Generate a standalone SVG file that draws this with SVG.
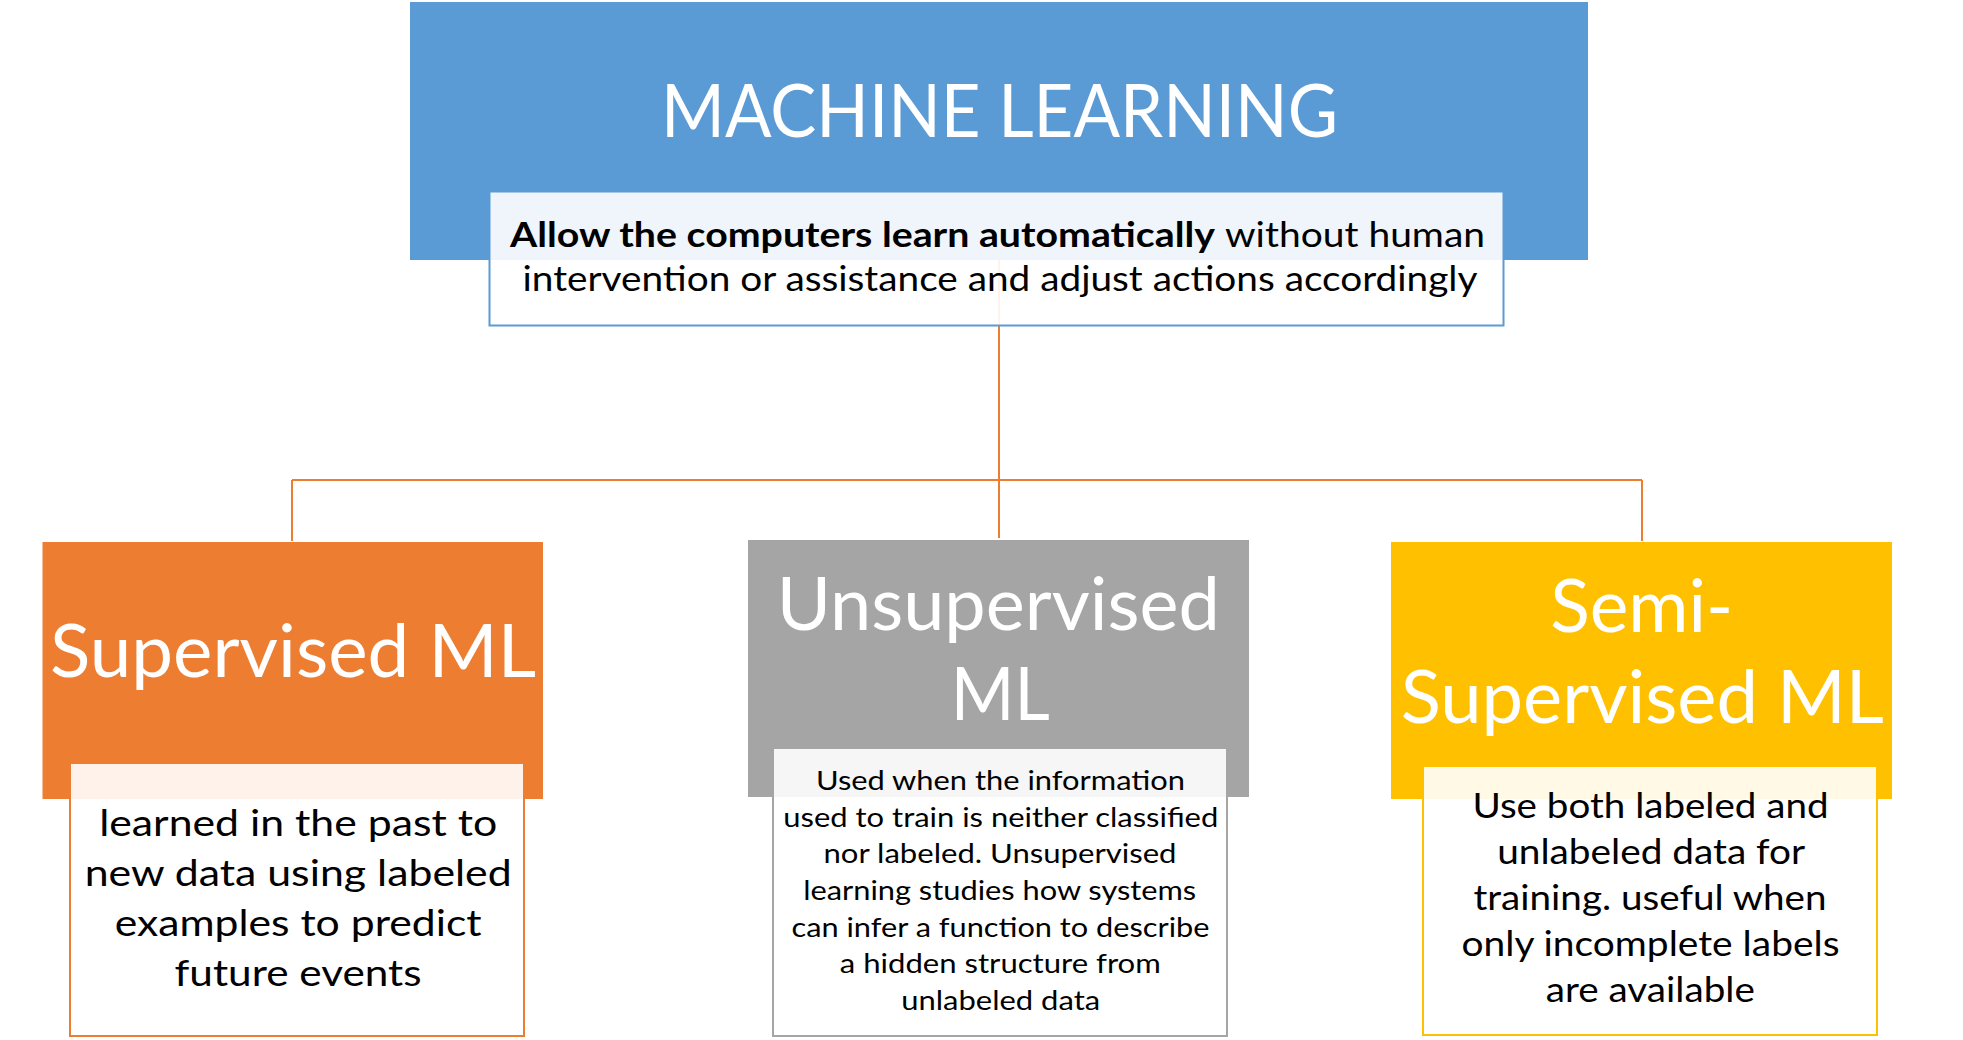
<svg xmlns="http://www.w3.org/2000/svg" width="1963" height="1040" viewBox="0 0 1963 1040">
<style>
text{font-family:Lato,"Liberation Sans",sans-serif;text-anchor:middle}
.title{fill:#FFFFFF;font-size:73px}
.desc{fill:#000000}
.card{fill:#FFFFFF;fill-opacity:0.9;stroke-width:2}
.conn{stroke:#ED7D31;stroke-width:2;fill:none}
</style>
<rect width="1963" height="1040" fill="#FFFFFF"/>
<g id="connectors">
<line class="conn" x1="999" y1="260" x2="999" y2="538"/>
<line class="conn" x1="292" y1="480" x2="1642" y2="480"/>
<line class="conn" x1="292" y1="480" x2="292" y2="541"/>
<line class="conn" x1="1642" y1="480" x2="1642" y2="541"/>
</g>
<g id="machine-learning">
<rect x="410" y="2" width="1178" height="258" fill="#5B9BD5"/>
<text class="title" x="999.5" y="137" textLength="677" lengthAdjust="spacingAndGlyphs">MACHINE LEARNING</text>
<rect class="card" x="489.5" y="191.5" width="1014" height="134" stroke="#5B9BD5" stroke-width="1.5"/>
<text class="desc" x="510" y="246.5" style="text-anchor:start;font-size:35px;font-weight:bold" textLength="705" lengthAdjust="spacingAndGlyphs">Allow the computers learn automatically</text>
<text class="desc" x="1225" y="246.5" style="text-anchor:start;font-size:35px" textLength="260" lengthAdjust="spacingAndGlyphs">without human</text>
<text class="desc" x="1000" y="290.5" style="font-size:35px" textLength="955" lengthAdjust="spacingAndGlyphs">intervention or assistance and adjust actions accordingly</text>
</g>
<g id="supervised">
<rect x="42.5" y="542" width="500.5" height="257" fill="#ED7D31"/>
<text class="title" x="293" y="677" textLength="486" lengthAdjust="spacingAndGlyphs">Supervised ML</text>
<rect class="card" x="70" y="763" width="454" height="273" stroke="#ED7D31"/>
<g class="desc" style="font-size:36px">
<text x="298.2" y="835.5" textLength="398" lengthAdjust="spacingAndGlyphs">learned in the past to</text>
<text x="298.2" y="885.5" textLength="427" lengthAdjust="spacingAndGlyphs">new data using labeled</text>
<text x="298.2" y="935.5" textLength="367" lengthAdjust="spacingAndGlyphs">examples to predict</text>
<text x="298" y="985.5" textLength="247" lengthAdjust="spacingAndGlyphs">future events</text>
</g>
</g>
<g id="unsupervised">
<rect x="748" y="540" width="501" height="257" fill="#A5A5A5"/>
<text class="title" x="998.3" y="630" textLength="443" lengthAdjust="spacingAndGlyphs">Unsupervised</text>
<text class="title" x="1000.3" y="720" textLength="99" lengthAdjust="spacingAndGlyphs">ML</text>
<rect class="card" x="773" y="748" width="454" height="288" stroke="#A5A5A5"/>
<g class="desc" style="font-size:26.5px">
<text x="1000.5" y="790" textLength="369" lengthAdjust="spacingAndGlyphs">Used when the information</text>
<text x="1000.8" y="826.7" textLength="435" lengthAdjust="spacingAndGlyphs">used to train is neither classified</text>
<text x="1000" y="863.3" textLength="353" lengthAdjust="spacingAndGlyphs">nor labeled. Unsupervised</text>
<text x="999.7" y="900" textLength="393" lengthAdjust="spacingAndGlyphs">learning studies how systems</text>
<text x="1000.5" y="936.7" textLength="418" lengthAdjust="spacingAndGlyphs">can infer a function to describe</text>
<text x="1000.3" y="973.3" textLength="321" lengthAdjust="spacingAndGlyphs">a hidden structure from</text>
<text x="1000.7" y="1009.5" textLength="199" lengthAdjust="spacingAndGlyphs">unlabeled data</text>
</g>
</g>
<g id="semi-supervised">
<rect x="1391" y="542" width="501" height="257" fill="#FFC000"/>
<text class="title" x="1641.7" y="632" textLength="183" lengthAdjust="spacingAndGlyphs">Semi-</text>
<text class="title" x="1642.3" y="723" textLength="483" lengthAdjust="spacingAndGlyphs">Supervised ML</text>
<rect class="card" x="1423" y="766" width="454" height="269" stroke="#FFC000"/>
<g class="desc" style="font-size:34px">
<text x="1650.5" y="818" textLength="356" lengthAdjust="spacingAndGlyphs">Use both labeled and</text>
<text x="1651.2" y="864" textLength="308" lengthAdjust="spacingAndGlyphs">unlabeled data for</text>
<text x="1650" y="910" textLength="353" lengthAdjust="spacingAndGlyphs">training. useful when</text>
<text x="1650.5" y="956" textLength="378" lengthAdjust="spacingAndGlyphs">only incomplete labels</text>
<text x="1650.3" y="1002" textLength="209" lengthAdjust="spacingAndGlyphs">are available</text>
</g>
</g>
</svg>
